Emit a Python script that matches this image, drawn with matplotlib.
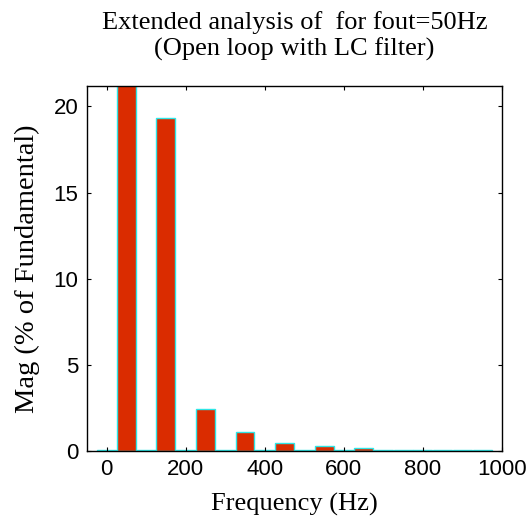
import numpy as np
import matplotlib.pyplot as plt

# harmonic spectrum data (50 Hz steps)
freqs = [0, 50, 100, 150, 200, 250, 300, 350, 400, 450,
         500, 550, 600, 650, 700, 750, 800, 850, 900, 950]
mags = [0.06, 100.0, 0.06, 19.3, 0.06, 2.42, 0.06, 1.09, 0.06, 0.43,
        0.06, 0.29, 0.06, 0.17, 0.05, 0.05, 0.05, 0.05, 0.05, 0.05]

x_ticks = [0, 200, 400, 600, 800, 1000]
y_ticks = [0, 5, 10, 15, 20]

serif = ['Liberation Serif', 'DejaVu Serif']
sans = ['Liberation Sans', 'DejaVu Sans']

fig = plt.figure(figsize=(5.3, 5.23), dpi=100)
ax = fig.add_axes([0.164, 0.138, 0.783, 0.698])

ax.bar(freqs, mags, width=48, color='#DA2C00', edgecolor='#2EE6E6', linewidth=1.0)

ax.set_xlim(-50, 1000)
ax.set_ylim(0, 21.2)
ax.set_xticks(x_ticks)
ax.set_yticks(y_ticks)
ax.tick_params(direction='in', length=3, width=0.8, top=True, right=True,
               labelsize=16, pad=6)
for lab in ax.get_xticklabels() + ax.get_yticklabels():
    lab.set_family(sans)
for sp in ax.spines.values():
    sp.set_linewidth(1.0)

ax.set_title("Extended analysis of  for fout=50Hz\n(Open loop with LC filter)",
             family=serif, fontsize=19, linespacing=1.2, pad=22)
ax.set_xlabel("Frequency (Hz)", family=serif, fontsize=19, labelpad=9)
ax.set_ylabel("Mag (% of Fundamental)", family=serif, fontsize=20.5, labelpad=10)

fig.savefig("out.png", dpi=100)
